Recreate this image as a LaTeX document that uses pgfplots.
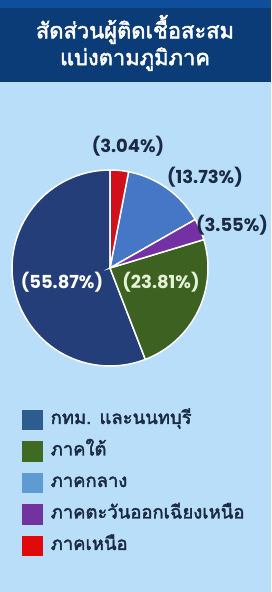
\documentclass[border=0pt]{standalone}
\usepackage{fontspec}
\usepackage{pgfplots}
\pgfplotsset{compat=1.18}
\usepgfplotslibrary{polar}
\newfontfamily\thaifont[Script=Thai, FakeBold=2.2]{Loma}
\newfontfamily\pctfont{Poppins}
\definecolor{bgblue}{HTML}{B8DEF9}
\definecolor{hdrblue}{HTML}{0B3C78}
\definecolor{hdrtop}{HTML}{0F4E9A}
\definecolor{sBk}{HTML}{233E79}
\definecolor{sS}{HTML}{3D6121}
\definecolor{sC}{HTML}{4676C6}
\definecolor{sE}{HTML}{7331A3}
\definecolor{sN}{HTML}{D0101A}
\definecolor{lBk}{HTML}{2D5C8E}
\definecolor{lS}{HTML}{3F6A22}
\definecolor{lC}{HTML}{5E9BD3}
\definecolor{lE}{HTML}{7232A0}
\definecolor{lN}{HTML}{E00A0A}
\definecolor{txtdark}{HTML}{1B2A44}
% shares (percent)
\def\pN{3.04}
\def\pC{13.73}
\def\pE{3.55}
\def\pS{23.81}
\def\pB{55.87}
\pgfmathsetmacro\aA{90}
\pgfmathsetmacro\aB{\aA-3.6*\pN}
\pgfmathsetmacro\aC{\aB-3.6*\pC}
\pgfmathsetmacro\aD{\aC-3.6*\pE}
\pgfmathsetmacro\aE{\aD-3.6*\pS}
\pgfmathsetmacro\aF{\aE-3.6*\pB}
\begin{document}
\begin{tikzpicture}[x=1bp,y=1bp]
\useasboundingbox (0,0) rectangle (271,592);
\fill[bgblue] (0,0) rectangle (271,592);
\fill[hdrblue] (0,510) rectangle (271,592);
\fill[hdrtop] (0,584) rectangle (271,592);
\node[white, font=\thaifont\fontsize{22}{27}\selectfont, align=center] at (135,549) {สัดส่วนผู้ติดเชื้อสะสม\\แบ่งตามภูมิภาค};
\begin{polaraxis}[
  at={(110bp,324bp)}, anchor=center,
  hide axis, scale only axis, width=196bp, height=196bp,
  xmin=0, xmax=360, ymin=0, ymax=1, clip=false,
  legend cell align=left,
  legend style={at={(0.051,-0.222)}, anchor=north west, draw=none, fill=none,
    inner sep=0pt, row sep=11bp, text=txtdark,
    font=\thaifont\fontsize{18.5}{21}\selectfont,
    nodes={inner sep=2bp, text height=12bp, text depth=4bp},
    /tikz/every odd column/.append style={column sep=6bp}},
]
\addplot[fill=sBk, draw=white, line width=1.5bp, domain=\aF:\aE, samples=80,
  legend image code/.code={\fill[lBk] (0bp,-9.5bp) rectangle (19bp,9.5bp);}] {1} -- (axis cs:0,0) -- cycle;
\addlegendentry{กทม. และนนทบุรี}
\addplot[fill=sS, draw=white, line width=1.5bp, domain=\aE:\aD, samples=40,
  legend image code/.code={\fill[lS] (0bp,-9.5bp) rectangle (19bp,9.5bp);}] {1} -- (axis cs:0,0) -- cycle;
\addlegendentry{ภาคใต้}
\addplot[fill=sC, draw=white, line width=1.5bp, domain=\aC:\aB, samples=30,
  legend image code/.code={\fill[lC] (0bp,-9.5bp) rectangle (19bp,9.5bp);}] {1} -- (axis cs:0,0) -- cycle;
\addlegendentry{ภาคกลาง}
\addplot[fill=sE, draw=white, line width=1.5bp, domain=\aD:\aC, samples=15,
  legend image code/.code={\fill[lE] (0bp,-9.5bp) rectangle (19bp,9.5bp);}] {1} -- (axis cs:0,0) -- cycle;
\addlegendentry{ภาคตะวันออกเฉียงเหนือ}
\addplot[fill=sN, draw=white, line width=1.5bp, domain=\aB:\aA, samples=15,
  legend image code/.code={\fill[lN] (0bp,-9.5bp) rectangle (19bp,9.5bp);}] {1} -- (axis cs:0,0) -- cycle;
\addlegendentry{ภาคเหนือ}
\end{polaraxis}
\begin{scope}[every node/.style={font=\pctfont\bfseries\fontsize{18}{20}\selectfont, inner sep=0pt}]
\node[text=txtdark] at (128,446) {(3.04\%)};
\node[text=txtdark] at (205,415) {(13.73\%)};
\node[text=txtdark] at (232,367) {(3.55\%)};
\node[text=white] at (62,310) {(55.87\%)};
\node[text={rgb,255:red,230;green,242;blue,216}] at (161,310) {(23.81\%)};
\end{scope}
\end{tikzpicture}
\end{document}
